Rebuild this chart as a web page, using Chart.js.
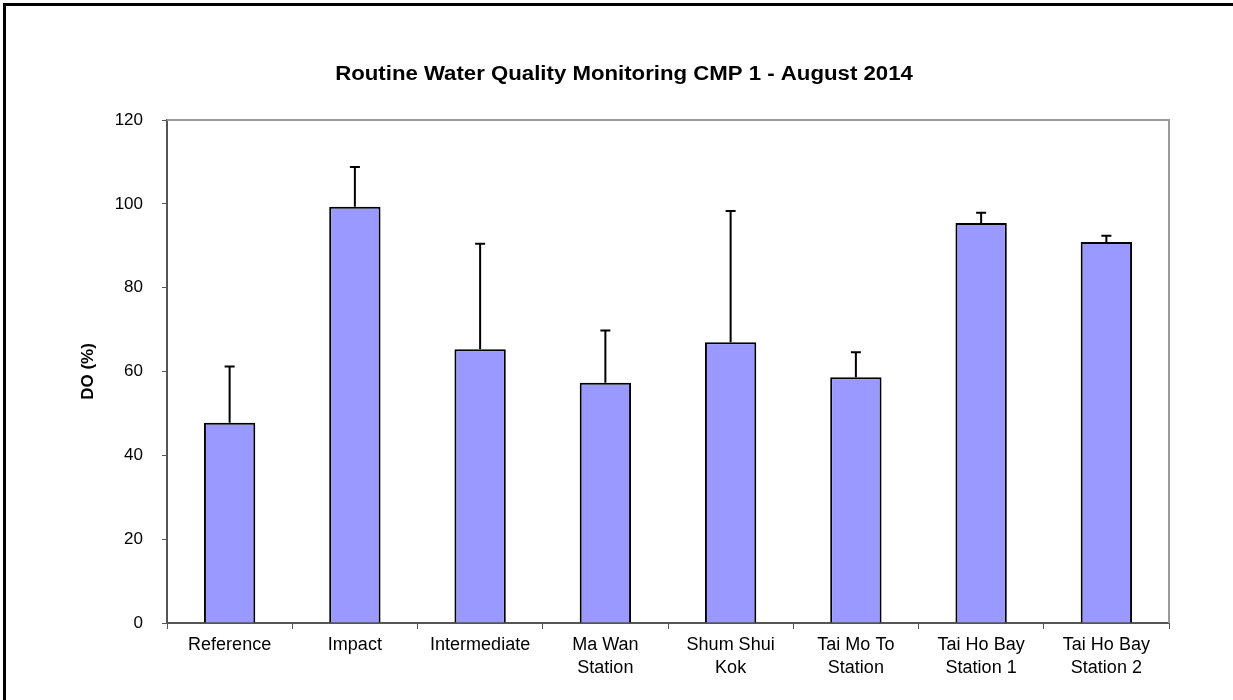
<!DOCTYPE html>
<html>
<head>
<meta charset="utf-8">
<script src="https://cdn.jsdelivr.net/npm/chart.js@4.4.1/dist/chart.umd.min.js"></script>
<style>
    body { margin: 0; background: #fff; }
    #wrap { position: relative; width: 1233px; height: 700px; overflow: hidden; }
    #frame { position: absolute; left: 3px; top: 3px; width: 1300px; height: 800px; border-left: 3px solid #000; border-top: 3px solid #000; pointer-events: none; }
    canvas { position: absolute; left: 0; top: 0; }
</style>
</head>
<body>
<div id="wrap">
    <canvas id="chart" width="1233" height="700"></canvas>
    <div id="frame"></div>
</div>
<script>
const chartTitle = 'Routine Water Quality Monitoring CMP 1 - August 2014';
const axisTitle = 'DO (%)';
const stations = [
    ['Reference'], ['Impact'], ['Intermediate'], ['Ma Wan', 'Station'],
    ['Shum Shui', 'Kok'], ['Tai Mo To', 'Station'], ['Tai Ho Bay', 'Station 1'], ['Tai Ho Bay', 'Station 2'],
];
const doMean = [47.8, 99.3, 65.3, 57.3, 67.0, 58.6, 95.4, 90.9];
const doError = [13.4, 9.5, 25.2, 12.5, 31.3, 6.0, 2.5, 1.5];
const yTicks = [0, 20, 40, 60, 80, 100, 120];

const font = 'Liberation Sans, Arial, sans-serif';
const area = { left: 167, top: 120, right: 1169, bottom: 623 };

// title, plot frame and the upper error bars
const extras = {
    id: 'extras',
    beforeDatasetsDraw(chart) {
        const { ctx, chartArea } = chart;
        ctx.save();
        ctx.strokeStyle = '#9a9a9a';
        ctx.lineWidth = 2;
        ctx.beginPath();
        ctx.moveTo(chartArea.left, chartArea.top);
        ctx.lineTo(chartArea.right, chartArea.top);
        ctx.lineTo(chartArea.right, chartArea.bottom);
        ctx.stroke();
        ctx.restore();
    },
    afterDatasetsDraw(chart) {
        const { ctx } = chart;
        const y = chart.scales.y;
        const meta = chart.getDatasetMeta(0);
        ctx.save();
        ctx.strokeStyle = '#000';
        ctx.lineWidth = 2;
        meta.data.forEach((bar, i) => {
            const top = y.getPixelForValue(doMean[i] + doError[i]);
            ctx.beginPath();
            ctx.moveTo(bar.x, bar.y);
            ctx.lineTo(bar.x, top);
            ctx.moveTo(bar.x - 5, top);
            ctx.lineTo(bar.x + 5, top);
            ctx.stroke();
        });
        // the original text is a little wide, so stretch the title
        ctx.fillStyle = '#000';
        ctx.font = 'bold 20px ' + font;
        ctx.textAlign = 'center';
        ctx.textBaseline = 'middle';
        ctx.translate(624, 74);
        ctx.scale(1.11, 1);
        ctx.fillText(chartTitle, 0, 0);
        ctx.restore();
    },
};

const chart = new Chart(document.getElementById('chart'), {
    type: 'bar',
    data: {
        labels: stations,
        datasets: [{
            data: doMean,
            backgroundColor: '#9999ff',
            borderColor: '#000',
            borderWidth: 2,
            barPercentage: 0.41,
            categoryPercentage: 1,
        }],
    },
    options: {
        responsive: false,
        animation: false,
        layout: { padding: { left: 78, top: area.top, right: 1233 - area.right, bottom: 0 } },
        plugins: { legend: { display: false }, tooltip: { enabled: false }, title: { display: false } },
        scales: {
            x: {
                offset: true,
                grid: { offset: true, drawOnChartArea: false, drawTicks: true, tickLength: 6, color: '#555' },
                border: { color: '#555', width: 2 },
                ticks: { color: '#000', font: { family: font, size: 18, lineHeight: 1.25 }, padding: 5, maxRotation: 0, autoSkip: false },
                afterFit(scale) { scale.height = 700 - area.bottom; },
            },
            y: {
                min: 0,
                max: 120,
                afterBuildTicks(scale) { scale.ticks = yTicks.map(v => ({ value: v })); },
                grid: { drawOnChartArea: false, drawTicks: true, tickLength: 5, color: '#555' },
                border: { color: '#555', width: 2 },
                ticks: { color: '#000', font: { family: font, size: 17 }, padding: 19 },
                title: { display: true, text: axisTitle, color: '#000', font: { family: font, size: 17, weight: 'bold' }, padding: 0 },
                afterFit(scale) { scale.width = area.left - 78; },
            },
        },
    },
    plugins: [extras],
});
</script>
</body>
</html>
